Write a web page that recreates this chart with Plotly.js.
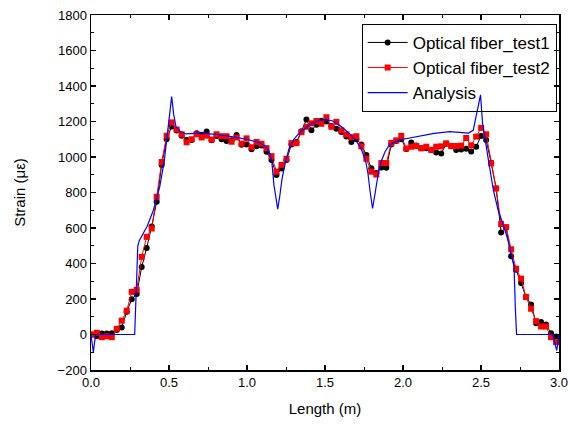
<!DOCTYPE html>
<html>
<head>
<meta charset="utf-8">
<script src="https://cdn.plot.ly/plotly-3.0.1.min.js"></script>
<style>html,body{margin:0;padding:0;background:#fff;}#chart{width:570px;height:426px;}</style>
</head>
<body>
<div id="chart"></div>
<script>
// Measurement positions (m), shared by both fiber tests
const testX = [0.005,0.037,0.069,0.101,0.133,0.165,0.197,0.229,0.261,0.293,
  0.325,0.357,0.389,0.421,0.453,0.485,0.517,0.549,0.581,0.613,
  0.645,0.677,0.709,0.741,0.773,0.805,0.837,0.869,0.901,0.933,
  0.965,0.997,1.029,1.061,1.093,1.125,1.157,1.189,1.221,1.253,
  1.285,1.317,1.349,1.381,1.413,1.445,1.477,1.509,1.541,1.573,
  1.605,1.637,1.669,1.701,1.733,1.765,1.797,1.829,1.861,1.893,
  1.925,1.957,1.989,2.021,2.053,2.085,2.117,2.149,2.181,2.213,
  2.245,2.277,2.309,2.341,2.373,2.405,2.437,2.469,2.501,2.533,
  2.565,2.597,2.629,2.661,2.693,2.725,2.757,2.789,2.821,2.853,
  2.885,2.917,2.949,2.981];

// Optical fiber_test1 strain (micro-strain)
const test1 = [0,-10,5,5,7,25,40,128,198,228,
  380,488,608,748,955,1100,1172,1150,1120,1096,
  1096,1134,1125,1143,1095,1118,1100,1090,1095,1124,
  1069,1071,1043,1060,1065,1030,983,898,935,983,
  1070,1085,1145,1211,1151,1181,1204,1200,1175,1159,
  1141,1115,1085,1100,1070,1011,936,910,941,940,
  1070,1090,1100,1045,1081,1065,1050,1050,1040,1026,
  1020,1075,1060,1040,1042,1047,1031,1058,1119,1096,
  967,823,575,603,441,365,290,211,169,64,
  70,57,7,-11];

// Optical fiber_test2 strain (micro-strain)
const test2 = [0,10,-15,-10,-15,32,78,134,240,252,
  437,550,597,776,972,1120,1195,1155,1128,1083,
  1100,1128,1110,1120,1098,1128,1117,1117,1086,1110,
  1075,1105,1055,1085,1075,1050,1005,917,955,990,
  1078,1078,1140,1170,1190,1203,1187,1224,1170,1198,
  1150,1127,1112,1117,1060,990,917,901,966,966,
  1079,1094,1119,1048,1058,1062,1049,1058,1040,1058,
  1060,1077,1062,1062,1064,1107,1066,1115,1164,1128,
  964,823,622,605,480,371,315,211,145,75,
  45,45,-15,-43];

// Analysis curve
const anaX = [0,0.008,0.015,0.022,0.03,0.28,0.29,0.30,0.31,0.33,
  0.36,0.40,0.44,0.47,0.49,0.505,0.517,0.53,0.545,0.57,
  0.61,0.70,0.80,0.90,1.00,1.08,1.12,1.14,1.158,1.173,
  1.185,1.197,1.21,1.225,1.245,1.27,1.30,1.34,1.40,1.45,
  1.50,1.55,1.60,1.66,1.70,1.73,1.76,1.775,1.79,1.805,
  1.82,1.84,1.86,1.885,1.91,1.95,2.0,2.1,2.2,2.3,
  2.38,2.42,2.45,2.47,2.485,2.497,2.51,2.53,2.55,2.58,
  2.61,2.64,2.67,2.70,2.712,2.72,2.728,2.96,2.975,2.985,
  2.993,3.0];
const anaY = [0,-60,-100,-50,0,0,300,500,530,560,
  610,700,830,980,1130,1260,1340,1240,1170,1145,
  1130,1135,1128,1115,1100,1080,1060,1035,983,840,
  760,706,780,880,965,1050,1100,1140,1180,1203,
  1212,1203,1175,1130,1090,1050,980,910,800,710,
  790,900,975,1030,1065,1085,1100,1115,1133,1143,
  1138,1135,1150,1230,1300,1350,1190,1090,970,810,
  700,625,540,430,380,150,0,0,-50,-90,
  -50,0];

const traces = [
  {x: testX, y: test1, name: 'Optical fiber_test1', type: 'scatter', mode: 'lines+markers',
   line: {color: '#000000', width: 1}, marker: {symbol: 'circle', size: 6, color: '#000000'}},
  {x: testX, y: test2, name: 'Optical fiber_test2', type: 'scatter', mode: 'lines+markers',
   line: {color: '#ff0000', width: 1}, marker: {symbol: 'square', size: 6, color: '#ff0000'}},
  {x: anaX, y: anaY, name: 'Analysis', type: 'scatter', mode: 'lines',
   line: {color: '#0000ff', width: 1.2}}
];

const axisCommon = {
  showgrid: false, zeroline: false, showline: true, linecolor: '#000', linewidth: 1.5,
  mirror: 'ticks', ticks: 'inside', ticklen: 5, tickwidth: 1.2, tickcolor: '#000',
  tickfont: {family: 'Liberation Sans, Arial, sans-serif', size: 13, color: '#000'}
};

const layout = {
  width: 570, height: 426,
  margin: {l: 91, r: 11, t: 15, b: 56},
  paper_bgcolor: '#fff', plot_bgcolor: '#fff',
  showlegend: true,
  font: {family: 'Liberation Sans, Arial, sans-serif', color: '#000'},
  xaxis: Object.assign({}, axisCommon, {
    range: [0, 3], dtick: 0.5, tick0: 0, tickformat: '.1f',
    minor: {dtick: 0.25, ticks: 'inside', ticklen: 3, tickcolor: '#000', tickwidth: 1},
    title: {text: 'Length (m)', font: {size: 15, color: '#000'}, standoff: 14}
  }),
  yaxis: Object.assign({}, axisCommon, {
    range: [-200, 1800], dtick: 200, tick0: 0,
    minor: {dtick: 100, ticks: 'inside', ticklen: 3, tickcolor: '#000', tickwidth: 1},
    title: {text: 'Strain (με)', font: {size: 15, color: '#000'}, standoff: 28}
  }),
  legend: {
    x: 0.995, xanchor: 'right', y: 0.975, yanchor: 'top',
    bgcolor: 'rgba(255,255,255,0)', bordercolor: '#000', borderwidth: 1,
    font: {size: 17, color: '#000'}, tracegroupgap: 0, itemwidth: 40
  }
};

Plotly.newPlot('chart', traces, layout, {displayModeBar: false, staticPlot: true});
</script>
</body>
</html>
